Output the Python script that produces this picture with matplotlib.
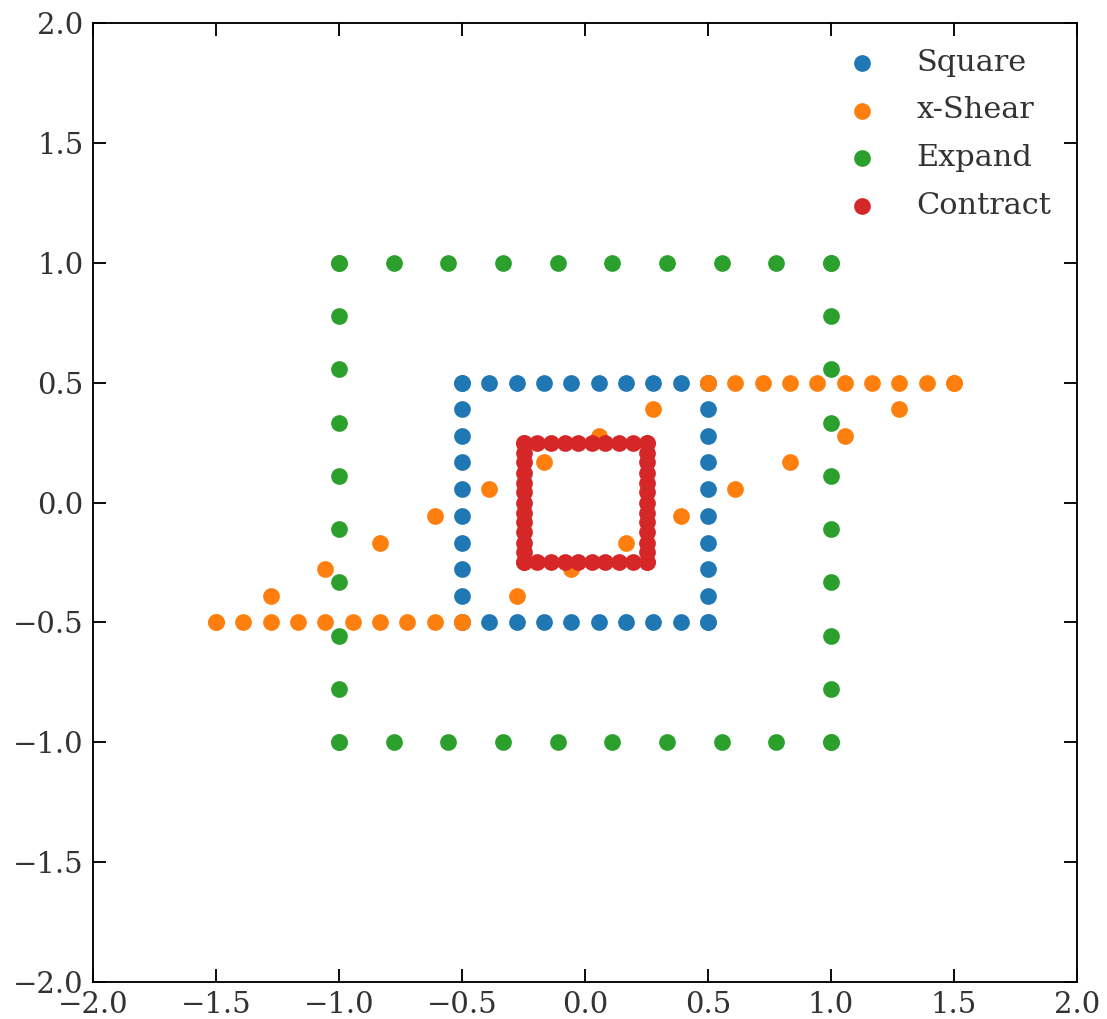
import matplotlib
matplotlib.use("Agg")
import matplotlib.pyplot as plt

# boundary points of each shape
square_x = [-0.5, -0.389, -0.278, -0.167, -0.056, 0.056, 0.167, 0.278, 0.389, 0.5,
            0.5, 0.5, 0.5, 0.5, 0.5, 0.5, 0.5, 0.5, 0.5, 0.5,
            0.5, 0.389, 0.278, 0.167, 0.056, -0.056, -0.167, -0.278, -0.389, -0.5,
            -0.5, -0.5, -0.5, -0.5, -0.5, -0.5, -0.5, -0.5, -0.5, -0.5]
square_y = [-0.5, -0.5, -0.5, -0.5, -0.5, -0.5, -0.5, -0.5, -0.5, -0.5,
            -0.5, -0.389, -0.278, -0.167, -0.056, 0.056, 0.167, 0.278, 0.389, 0.5,
            0.5, 0.5, 0.5, 0.5, 0.5, 0.5, 0.5, 0.5, 0.5, 0.5,
            0.5, 0.389, 0.278, 0.167, 0.056, -0.056, -0.167, -0.278, -0.389, -0.5]

shear_x = [-1.5, -1.389, -1.278, -1.167, -1.056, -0.944, -0.833, -0.722, -0.611, -0.5,
           -0.5, -0.278, -0.056, 0.167, 0.389, 0.611, 0.833, 1.056, 1.278, 1.5,
           1.5, 1.389, 1.278, 1.167, 1.056, 0.944, 0.833, 0.722, 0.611, 0.5,
           0.5, 0.278, 0.056, -0.167, -0.389, -0.611, -0.833, -1.056, -1.278, -1.5]
shear_y = [-0.5, -0.5, -0.5, -0.5, -0.5, -0.5, -0.5, -0.5, -0.5, -0.5,
           -0.5, -0.389, -0.278, -0.167, -0.056, 0.056, 0.167, 0.278, 0.389, 0.5,
           0.5, 0.5, 0.5, 0.5, 0.5, 0.5, 0.5, 0.5, 0.5, 0.5,
           0.5, 0.389, 0.278, 0.167, 0.056, -0.056, -0.167, -0.278, -0.389, -0.5]

expand_x = [-1.0, -0.778, -0.556, -0.333, -0.111, 0.111, 0.333, 0.556, 0.778, 1.0,
            1.0, 1.0, 1.0, 1.0, 1.0, 1.0, 1.0, 1.0, 1.0, 1.0,
            1.0, 0.778, 0.556, 0.333, 0.111, -0.111, -0.333, -0.556, -0.778, -1.0,
            -1.0, -1.0, -1.0, -1.0, -1.0, -1.0, -1.0, -1.0, -1.0, -1.0]
expand_y = [-1.0, -1.0, -1.0, -1.0, -1.0, -1.0, -1.0, -1.0, -1.0, -1.0,
            -1.0, -0.778, -0.556, -0.333, -0.111, 0.111, 0.333, 0.556, 0.778, 1.0,
            1.0, 1.0, 1.0, 1.0, 1.0, 1.0, 1.0, 1.0, 1.0, 1.0,
            1.0, 0.778, 0.556, 0.333, 0.111, -0.111, -0.333, -0.556, -0.778, -1.0]

# contracted square: sides look denser vertically than horizontally
contract_x = [-0.25, -0.194, -0.139, -0.083, -0.028, 0.028, 0.083, 0.139, 0.194, 0.25,
              0.25, 0.25, 0.25, 0.25, 0.25, 0.25, 0.25, 0.25, 0.25, 0.25, 0.25, 0.25, 0.25,
              0.25, 0.194, 0.139, 0.083, 0.028, -0.028, -0.083, -0.139, -0.194, -0.25,
              -0.25, -0.25, -0.25, -0.25, -0.25, -0.25, -0.25, -0.25, -0.25, -0.25, -0.25, -0.25, -0.25]
contract_y = [-0.25, -0.25, -0.25, -0.25, -0.25, -0.25, -0.25, -0.25, -0.25, -0.25,
              -0.25, -0.208, -0.167, -0.125, -0.083, -0.042, 0.0, 0.042, 0.083, 0.125, 0.167, 0.208, 0.25,
              0.25, 0.25, 0.25, 0.25, 0.25, 0.25, 0.25, 0.25, 0.25, 0.25,
              0.25, 0.208, 0.167, 0.125, 0.083, 0.042, 0.0, -0.042, -0.083, -0.125, -0.167, -0.208, -0.25]

labels = ["Square", "x-Shear", "Expand", "Contract"]
ticks = [-2.0, -1.5, -1.0, -0.5, 0.0, 0.5, 1.0, 1.5, 2.0]

plt.rcParams['font.family'] = ['DejaVu Serif']
plt.rcParams['text.color'] = '#333333'
plt.rcParams['xtick.color'] = '#333333'
plt.rcParams['ytick.color'] = '#333333'

fig = plt.figure(figsize=(1107 / 168, 1019 / 168), dpi=168)
ax = fig.add_axes([93 / 1107, 1 - 982 / 1019, (1077 - 93) / 1107, (982 - 23) / 1019])

ax.scatter(square_x, square_y, s=38, label=labels[0])
ax.scatter(shear_x, shear_y, s=38, label=labels[1])
ax.scatter(expand_x, expand_y, s=38, label=labels[2])
ax.scatter(contract_x, contract_y, s=38, label=labels[3])

ax.set_xlim(-2, 2)
ax.set_ylim(-2, 2)
ax.set_xticks(ticks)
ax.set_yticks(ticks)
ax.tick_params(direction='in', top=True, right=True, length=5.5, labelsize=12.5,
               pad=4, color='black')
for sp in ax.spines.values():
    sp.set_color('black')

ax.legend(loc='upper right', frameon=False, fontsize=13, handletextpad=0.8,
          labelspacing=0.65, borderaxespad=0.45)

fig.savefig("out.png", dpi=168)
